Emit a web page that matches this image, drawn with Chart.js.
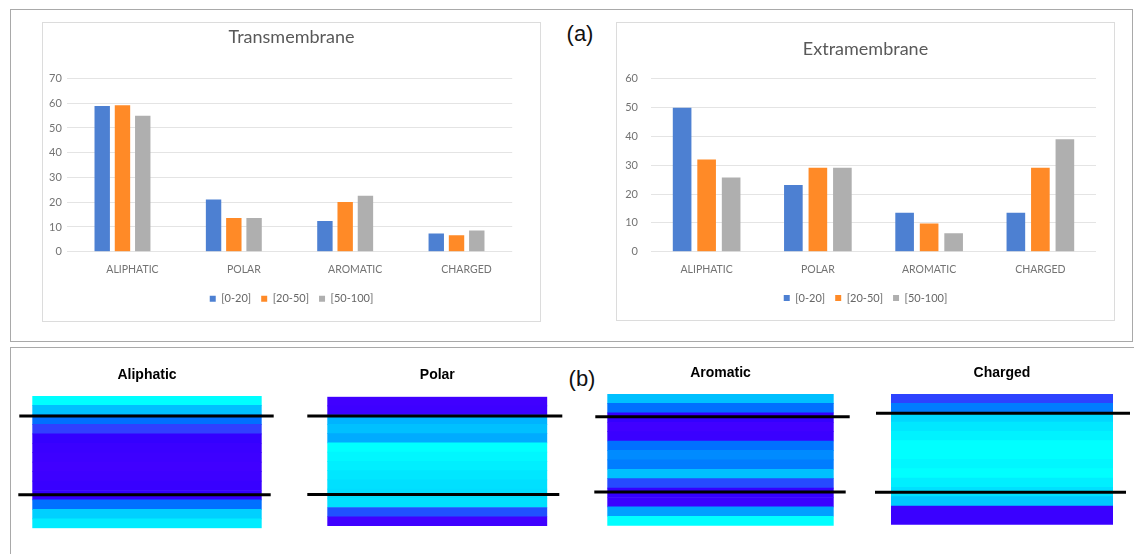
<!DOCTYPE html>
<html>
<head>
<meta charset="utf-8">
<script src="https://cdn.jsdelivr.net/npm/chart.js@4.4.1/dist/chart.umd.min.js"></script>
<style>
  html, body { margin: 0; padding: 0; background: #fff; }
  body { width: 1134px; height: 554px; position: relative; overflow: hidden; font-family: 'Liberation Sans', Arial, sans-serif; }
  .frame { position: absolute; border: 1.5px solid #a9a9a9; box-sizing: border-box; }
  .box { position: absolute; border: 1px solid #dcdcdc; box-sizing: border-box; }
  canvas { position: absolute; }
  .tag { position: absolute; font-size: 22px; line-height: 22px; color: #111; transform: translate(-50%, -50%); }
</style>
</head>
<body>
<div class="frame" style="left:10px;top:9px;width:1123px;height:333px"></div>
<div class="frame" style="left:10px;top:347px;width:1140px;height:230px"></div>
<div class="box" style="left:42px;top:22px;width:499px;height:300px"></div>
<div class="box" style="left:616px;top:22px;width:499px;height:299px"></div>
<div class="tag" style="left:580px;top:34px">(a)</div>
<div class="tag" style="left:582px;top:379px">(b)</div>

<canvas id="trans" width="499" height="300" style="left:42px;top:22px"></canvas>
<canvas id="extra" width="499" height="299" style="left:616px;top:22px"></canvas>
<canvas id="aliphatic" width="270" height="190" style="left:12px;top:355px"></canvas>
<canvas id="polar" width="275" height="190" style="left:300px;top:355px"></canvas>
<canvas id="aromatic" width="280" height="190" style="left:590px;top:355px"></canvas>
<canvas id="charged" width="264" height="190" style="left:870px;top:355px"></canvas>

<script>
// ---- (a) bar charts ----
const categories = ['ALIPHATIC', 'POLAR', 'AROMATIC', 'CHARGED'];
const seriesNames = ['[0-20]', '[20-50]', '[50-100]'];

const trans0to20 = [58.9, 21.1, 12.4, 7.4];
const trans20to50 = [59.2, 13.6, 20.1, 6.6];
const trans50to100 = [54.9, 13.6, 22.6, 8.6];

const extra0to20 = [49.9, 23.1, 13.5, 13.5];
const extra20to50 = [32.0, 29.1, 9.8, 29.1];
const extra50to100 = [25.7, 29.1, 6.4, 39.0];

const transAxisMax = 70;
const extraAxisMax = 60;
const axisStep = 10;

// ---- (b) layer strips ----
// level of each layer, listed top to bottom (0 = cyan, 1 = deep blue)
const aliphaticLevels = [0, 0.4, 0.7, 0.85, 0.92, 0.96, 0.98, 1, 0.98, 0.95, 0.92, 0.7, 0.3, 0.12];
const polarLevels = [1, 0.98, 0.45, 0.4, 0.48, 0, 0.05, 0.1, 0.15, 0.2, 0.22, 0.2, 0.8, 1];
const aromaticLevels = [0.4, 0.7, 0.92, 1, 0.96, 0.7, 0.6, 0.65, 0.4, 0.82, 0.92, 0.96, 0.52, 0];
const chargedLevels = [0.84, 0.65, 0.25, 0.15, 0.08, 0, 0, 0.05, 0, 0.1, 0.2, 0.35, 0.96, 0.96];

// membrane boundaries, in layer units counted from the bottom
const aliphaticBounds = [11.88, 3.56];
const polarBounds = [11.91, 3.4];
const aromaticBounds = [11.59, 3.59];
const chargedBounds = [11.93, 3.48];

Chart.defaults.font.family = 'Lato';
Chart.defaults.animation = false;

const barColors = ['#4d80d2', '#ff8a27', '#afafaf'];
const tickFont = { family: 'Lato', size: 10.5 };

function makeBars(id, title, series, axisMax, o) {
  new Chart(document.getElementById(id), {
    type: 'bar',
    data: {
      labels: categories,
      datasets: series.map((values, i) => ({
        label: seriesNames[i],
        data: values,
        backgroundColor: barColors[i],
        borderWidth: 0,
        categoryPercentage: o.catPct,
        barPercentage: 0.76
      }))
    },
    options: {
      responsive: false,
      events: [],
      layout: { padding: { left: 0, right: 0, top: 0, bottom: o.padBottom } },
      scales: {
        x: {
          grid: { display: false },
          border: { display: false },
          ticks: { font: tickFont, color: '#737373', padding: 4, labelOffset: o.labelOffset },
          afterFit: s => { s.height = o.xHeight; }
        },
        y: {
          min: 0,
          max: axisMax,
          ticks: { stepSize: axisStep, font: { family: 'Lato', size: 11 }, color: '#737373', padding: o.tickPad },
          grid: { color: '#e4e4e4', drawTicks: false },
          border: { display: false },
          afterFit: s => { s.width = o.yWidth; }
        },
        yR: {
          type: 'linear',
          position: 'right',
          grid: { display: false },
          border: { display: false },
          ticks: { display: false },
          afterFit: s => { s.width = o.rightWidth; }
        }
      },
      plugins: {
        tooltip: { enabled: false },
        title: {
          display: true,
          text: title,
          color: '#595959',
          font: { family: 'Lato', size: 18, weight: 'normal' },
          padding: o.titlePad
        },
        legend: {
          position: 'bottom',
          labels: {
            boxWidth: 6,
            boxHeight: 6,
            padding: 10,
            color: '#666666',
            font: { family: 'Lato', size: 11 }
          }
        }
      }
    }
  });
}

makeBars('trans', 'Transmembrane', [trans0to20, trans20to50, trans50to100], transAxisMax, {
  catPct: 0.546, labelOffset: 10, padBottom: 7.8, xHeight: 31.5,
  yWidth: 24.8, tickPad: 5, rightWidth: 28.8, titlePad: { top: 4.2, bottom: 30.7 }
});
makeBars('extra', 'Extramembrane', [extra0to20, extra20to50, extra50to100], extraAxisMax, {
  catPct: 0.661, labelOffset: 0, padBottom: 7.5, xHeight: 30.8,
  yWidth: 35, tickPad: 13, rightWidth: 19, titlePad: { top: 16.2, bottom: 18.9 }
});

// colour scale of the layer strips
const colorStops = [
  [0, [0, 255, 255]],
  [0.4, [0, 192, 255]],
  [0.7, [0, 112, 255]],
  [0.85, [48, 64, 255]],
  [0.92, [52, 0, 255]],
  [1, [64, 0, 255]]
];
function levelColor(v) {
  for (let i = 1; i < colorStops.length; i++) {
    const [v1, c1] = colorStops[i];
    const [v0, c0] = colorStops[i - 1];
    if (v <= v1) {
      const t = (v - v0) / (v1 - v0);
      const c = c0.map((x, k) => Math.round(x + (c1[k] - x) * t));
      return `rgb(${c[0]}, ${c[1]}, ${c[2]})`;
    }
  }
  return 'rgb(64, 0, 255)';
}

// draws the membrane boundary lines across each strip
const membraneLines = {
  id: 'membraneLines',
  afterDatasetsDraw(chart, args, opts) {
    const { ctx, chartArea, scales } = chart;
    ctx.save();
    ctx.strokeStyle = '#000';
    ctx.lineWidth = 3;
    opts.values.forEach((v, i) => {
      const y = scales.y.getPixelForValue(v);
      ctx.beginPath();
      ctx.moveTo(chartArea.left - opts.left[i], y);
      ctx.lineTo(chartArea.right + opts.right[i], y);
      ctx.stroke();
    });
    ctx.restore();
  }
};

function makeStrip(id, title, levels, bounds, o) {
  // stacked bars fill from the bottom, so reverse the top-to-bottom list
  const datasets = levels.slice().reverse().map(v => ({
    data: [1],
    backgroundColor: levelColor(v),
    borderWidth: 0,
    barPercentage: 1,
    categoryPercentage: 1
  }));
  new Chart(document.getElementById(id), {
    type: 'bar',
    data: { labels: [''], datasets: datasets },
    options: {
      responsive: false,
      events: [],
      layout: { padding: o.padding },
      scales: {
        x: { display: false, stacked: true },
        y: { display: false, stacked: true, min: 0, max: levels.length }
      },
      plugins: {
        legend: { display: false },
        tooltip: { enabled: false },
        title: {
          display: true,
          text: title,
          color: '#000',
          font: { family: 'Liberation Sans', size: 14, weight: 'bold' },
          padding: o.titlePad
        },
        membraneLines: { values: bounds, left: o.left, right: o.right }
      }
    },
    plugins: [membraneLines]
  });
}

makeStrip('aliphatic', 'Aliphatic', aliphaticLevels, aliphaticBounds, {
  padding: { left: 20.3, right: 20.3, top: 0, bottom: 16.7 },
  titlePad: { top: 12, bottom: 12.2 }, left: [13, 14], right: [12, 9]
});
makeStrip('polar', 'Polar', polarLevels, polarBounds, {
  padding: { left: 27.3, right: 27.7, top: 0, bottom: 19 },
  titlePad: { top: 12, bottom: 12.9 }, left: [20, 20], right: [15, 12]
});
makeStrip('aromatic', 'Aromatic', aromaticLevels, aromaticBounds, {
  padding: { left: 17.3, right: 36.3, top: 0, bottom: 19.3 },
  titlePad: { top: 10, bottom: 12.2 }, left: [12, 13], right: [16, 12]
});
makeStrip('charged', 'Charged', chargedLevels, chargedBounds, {
  padding: { left: 21, right: 21, top: 0, bottom: 20.3 },
  titlePad: { top: 10, bottom: 12.2 }, left: [15, 16], right: [17, 13]
});
</script>
</body>
</html>
